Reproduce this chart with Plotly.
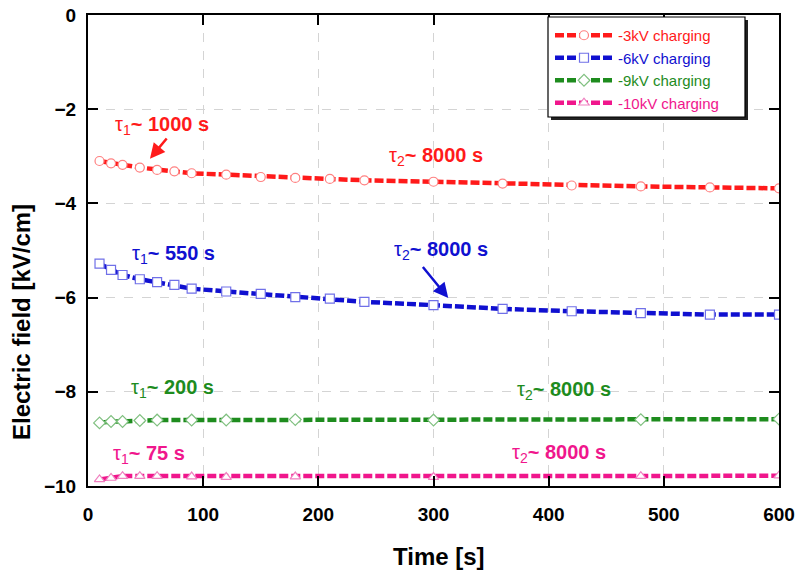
import plotly.graph_objects as go

# ---- data ----
t_fast = [10, 20, 30, 45, 60, 75, 90, 120, 150, 180, 210, 240, 300, 360, 420, 480, 540, 600]
e_3kv = [-3.10, -3.15, -3.18, -3.24, -3.29, -3.32, -3.36, -3.39, -3.44, -3.46, -3.48, -3.51,
         -3.54, -3.58, -3.62, -3.64, -3.66, -3.68]
e_6kv = [-5.28, -5.41, -5.52, -5.61, -5.67, -5.73, -5.81, -5.87, -5.92, -5.99, -6.02, -6.09,
         -6.16, -6.24, -6.29, -6.33, -6.36, -6.36]
t_slow = [10, 20, 30, 45, 60, 90, 120, 180, 300, 480, 600]
e_9kv = [-8.66, -8.63, -8.63, -8.61, -8.60, -8.60, -8.60, -8.59, -8.60, -8.59, -8.58]
e_10kv = [-9.86, -9.83, -9.79, -9.79, -9.79, -9.80, -9.81, -9.80, -9.81, -9.79, -9.78]

names = ["-3kV charging", "-6kV charging", "-9kV charging", "-10kV charging"]
colors = ["#ff1a1a", "#1010d0", "#1e8c1e", "#f0168c"]
edge_colors = ["#ff8080", "#7070e8", "#80c080", "#f080c0"]
symbols = ["circle", "square", "diamond", "triangle-up"]

x_ticks = [0, 100, 200, 300, 400, 500, 600]
y_ticks = [0, -2, -4, -6, -8, -10]

FONT = "Liberation Sans, Arial, sans-serif"

W, H = 800, 573
ML, MR, MT, MB = 88, 21, 15, 87
PW, PH = W - ML - MR, H - MT - MB

def px_x(p):
    return (p - ML) / PW

def px_y(p):
    return 1 - (p - MT) / PH

fig = go.Figure()
series = [(t_fast, e_3kv), (t_fast, e_6kv), (t_slow, e_9kv), (t_slow, e_10kv)]
for (xs, ys), nm, c, ec, sym in zip(series, names, colors, edge_colors, symbols):
    fig.add_trace(go.Scatter(
        x=xs, y=ys, name=f'<span style="color:{c}">{nm}</span>', mode="lines+markers",
        line=dict(color=c, width=4.5, dash="9px,3px"),
        marker=dict(symbol=sym, size=9, color="white",
                    line=dict(color=ec, width=1.2)),
    ))

# annotations (tau labels)
labels = [
    (21.7, -2.34, "1", "~ 1000 s", colors[0]),
    (259.5, -3.01, "2", "~ 8000 s", colors[0]),
    (36.5, -5.09, "1", "~ 550 s", colors[1]),
    (263.6, -4.99, "2", "~ 8000 s", colors[1]),
    (35.9, -7.94, "1", "~ 200 s", colors[2]),
    (370.7, -7.98, "2", "~ 8000 s", colors[2]),
    (19.7, -9.34, "1", "~ 75 s", colors[3]),
    (366.3, -9.30, "2", "~ 8000 s", colors[3]),
]
for x, y, sub, txt, c in labels:
    fig.add_annotation(x=x, y=y, xanchor="left", yanchor="middle", showarrow=False,
                       text=f"τ<sub>{sub}</sub><b>{txt}</b>",
                       font=dict(family=FONT, size=20, color=c))

# arrows
arrows = [
    (53.8, -3.05, 69.4, -2.59, colors[0]),
    (312.8, -6.01, 289.7, -5.32, colors[1]),
]
for hx, hy, tx, ty, c in arrows:
    fig.add_annotation(x=hx, y=hy, ax=tx, ay=ty, axref="x", ayref="y", xref="x", yref="y",
                       text="", showarrow=True, arrowhead=2, arrowsize=1.2,
                       arrowwidth=2.5, arrowcolor=c)

# axis titles as annotations (positioned as in reference)
fig.add_annotation(xref="paper", yref="paper", x=px_x(21), y=px_y(322),
                   xanchor="center", yanchor="middle",
                   text="<b>Electric field [kV/cm]</b>", textangle=-90, showarrow=False,
                   font=dict(family=FONT, size=24, color="black"))
fig.add_annotation(xref="paper", yref="paper", x=px_x(439), y=px_y(556),
                   xanchor="center", yanchor="middle",
                   text="<b>Time [s]</b>", showarrow=False,
                   font=dict(family=FONT, size=24, color="black"))

# legend box + shadow
lx0, ly0, lx1, ly1 = 548, 17, 745, 117
fig.add_shape(type="rect", xref="paper", yref="paper",
              x0=px_x(lx0 + 3), x1=px_x(lx1 + 3), y0=px_y(ly0 + 3), y1=px_y(ly1 + 3),
              fillcolor="#222", line=dict(width=0), layer="above")
fig.add_shape(type="rect", xref="paper", yref="paper",
              x0=px_x(lx0), x1=px_x(lx1), y0=px_y(ly0), y1=px_y(ly1),
              fillcolor="white", line=dict(color="black", width=1.2), layer="above")

axis_common = dict(
    showline=True, linecolor="black", linewidth=2, mirror="ticks",
    ticks="inside", ticklen=10, tickwidth=2, tickcolor="black",
    showgrid=True, gridcolor="#d4d4d4", gridwidth=1, griddash="dash",
    zeroline=False, automargin=False,
    tickfont=dict(family=FONT, size=19, color="black", weight="bold"),
)

fig.update_layout(
    width=W, height=H,
    margin=dict(l=ML, r=MR, t=MT, b=MB),
    paper_bgcolor="white", plot_bgcolor="white",
    font=dict(family=FONT),
    xaxis=dict(range=[0, 600], tickvals=x_ticks, ticklabelstandoff=10, **axis_common),
    yaxis=dict(range=[-10, 0], tickvals=y_ticks, ticklabelstandoff=6, **axis_common),
    legend=dict(x=px_x(lx0 + 2), y=px_y(19), xanchor="left", yanchor="top",
                bgcolor="rgba(0,0,0,0)", borderwidth=0, tracegroupgap=0,
                itemwidth=58, font=dict(family=FONT, size=15)),
    showlegend=True,
)

fig.write_html("out.html")
